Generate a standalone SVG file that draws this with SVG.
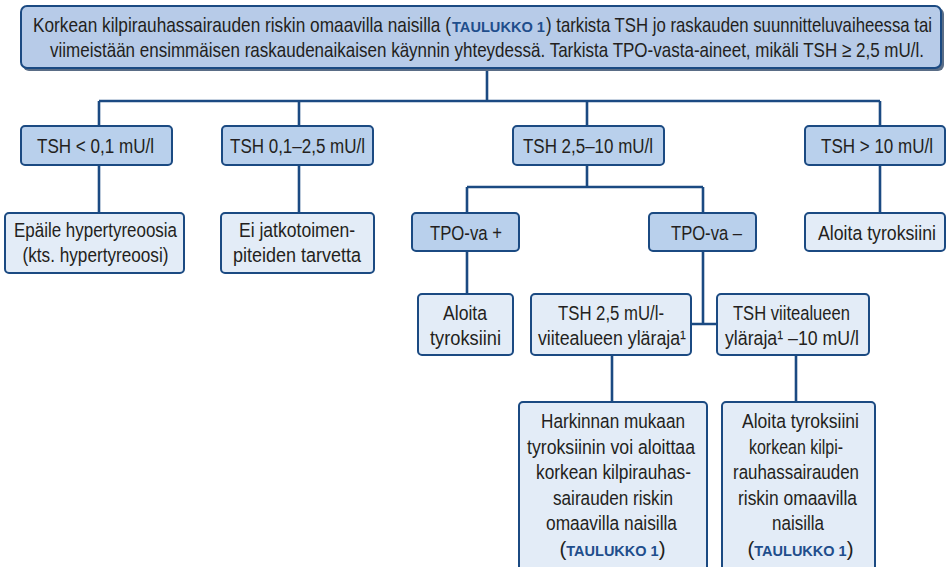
<svg xmlns="http://www.w3.org/2000/svg" width="947" height="567" viewBox="0 0 947 567">
<style>
.t{font-family:"Liberation Sans",Arial,sans-serif;font-size:20.5px;fill:#231f20;text-anchor:middle}
.h{font-size:21px}
.s{text-anchor:start}
.e{text-anchor:end}
.ref{font-family:"Liberation Sans",Arial,sans-serif;font-weight:bold;font-size:14.5px;fill:#1f4e8c}
.d{fill:#b9d0ec;stroke:#1b4a82;stroke-width:2}
.l{fill:#e3ecf7;stroke:#1b4a82;stroke-width:2}
.c{stroke:#1b4a82;stroke-width:2.6;fill:none}
</style>
<rect width="947" height="567" fill="#ffffff"/>
<g id="connectors">
<path class="c" d="M487 69V101M99 101H880M99 101V126M299 101V126M587 101V126M880 101V126"/>
<path class="c" d="M99 165V213M299 165V213M880 165V213"/>
<path class="c" d="M587 165V187M467 187H703M467 187V213M703 187V213"/>
<path class="c" d="M467 251V294M703 251V324M691 324H717"/>
<path class="c" d="M612 355V402M796 355V402"/>
</g>
<g id="header">
<rect x="23" y="8" width="921" height="63" rx="6" fill="#5a6d86"/>
<rect class="d" x="21" y="6" width="920" height="62" rx="6" style="fill:#b7cbe8"/>
<text class="t h e" x="451" y="32" textLength="418" lengthAdjust="spacingAndGlyphs">Korkean kilpirauhassairauden riskin omaavilla naisilla (</text>
<text class="ref" x="452" y="32" textLength="93" lengthAdjust="spacingAndGlyphs" style="font-size:14px">TAULUKKO 1</text>
<text class="t h s" x="546" y="32" textLength="386" lengthAdjust="spacingAndGlyphs">) tarkista TSH jo raskauden suunnitteluvaiheessa tai</text>
<text class="t h" x="487" y="57" textLength="874" lengthAdjust="spacingAndGlyphs">viimeistään ensimmäisen raskaudenaikaisen käynnin yhteydessä. Tarkista TPO-vasta-aineet, mikäli TSH ≥ 2,5 mU/l.</text>
</g>
<g id="n1"><rect class="d" x="21" y="126" width="151" height="39" rx="4"/><text class="t" x="95.5" y="153" textLength="117" lengthAdjust="spacingAndGlyphs">TSH &lt; 0,1 mU/l</text></g>
<g id="n2"><rect class="d" x="222" y="126" width="151" height="39" rx="4"/><text class="t" x="297.5" y="153" textLength="135" lengthAdjust="spacingAndGlyphs">TSH 0,1–2,5 mU/l</text></g>
<g id="n3"><rect class="d" x="513" y="126" width="151" height="39" rx="4"/><text class="t" x="588" y="153" textLength="130" lengthAdjust="spacingAndGlyphs">TSH 2,5–10 mU/l</text></g>
<g id="n4"><rect class="d" x="805" y="126" width="140" height="39" rx="4"/><text class="t" x="877" y="153" textLength="112" lengthAdjust="spacingAndGlyphs">TSH &gt; 10 mU/l</text></g>
<g id="n5"><rect class="l" x="5" y="213" width="179" height="60" rx="4"/><text class="t" x="95.5" y="237" textLength="163" lengthAdjust="spacingAndGlyphs">Epäile hypertyreoosia</text><text class="t" x="95.5" y="262" textLength="146" lengthAdjust="spacingAndGlyphs">(kts. hypertyreoosi)</text></g>
<g id="n6"><rect class="l" x="221" y="213" width="153" height="60" rx="4"/><text class="t" x="297" y="237" textLength="116" lengthAdjust="spacingAndGlyphs">Ei jatkotoimen-</text><text class="t" x="297" y="262" textLength="128" lengthAdjust="spacingAndGlyphs">piteiden tarvetta</text></g>
<g id="n7"><rect class="d" x="412" y="213" width="107" height="38" rx="4"/><text class="t" x="466" y="240" textLength="72" lengthAdjust="spacingAndGlyphs">TPO-va +</text></g>
<g id="n8"><rect class="d" x="649" y="213" width="107" height="38" rx="4"/><text class="t" x="706.5" y="240" textLength="71" lengthAdjust="spacingAndGlyphs">TPO-va –</text></g>
<g id="n9"><rect class="l" x="805" y="213" width="140" height="38" rx="4"/><text class="t" x="877" y="240" textLength="118" lengthAdjust="spacingAndGlyphs">Aloita tyroksiini</text></g>
<g id="n10"><rect class="l" x="418" y="294" width="95" height="61" rx="4"/><text class="t" x="465" y="320" textLength="44" lengthAdjust="spacingAndGlyphs">Aloita</text><text class="t" x="465.5" y="345" textLength="71" lengthAdjust="spacingAndGlyphs">tyroksiini</text></g>
<g id="n11"><rect class="l" x="531" y="294" width="160" height="61" rx="4"/><text class="t" x="611" y="320" textLength="106" lengthAdjust="spacingAndGlyphs">TSH 2,5 mU/l-</text><text class="t" x="612" y="345" textLength="148" lengthAdjust="spacingAndGlyphs">viitealueen yläraja¹</text></g>
<g id="n12"><rect class="l" x="717" y="294" width="152" height="61" rx="4"/><text class="t" x="791.5" y="320" textLength="117" lengthAdjust="spacingAndGlyphs">TSH viitealueen</text><text class="t" x="792" y="345" textLength="134" lengthAdjust="spacingAndGlyphs">yläraja¹ –10 mU/l</text></g>
<g id="n13"><rect class="l" x="519" y="402" width="188" height="175" rx="4"/>
<text class="t" x="613" y="428" textLength="144" lengthAdjust="spacingAndGlyphs">Harkinnan mukaan</text>
<text class="t" x="611" y="454" textLength="168" lengthAdjust="spacingAndGlyphs">tyroksiinin voi aloittaa</text>
<text class="t" x="613.5" y="479" textLength="155" lengthAdjust="spacingAndGlyphs">korkean kilpirauhas-</text>
<text class="t" x="613" y="505" textLength="120" lengthAdjust="spacingAndGlyphs">sairauden riskin</text>
<text class="t" x="611.5" y="530" textLength="131" lengthAdjust="spacingAndGlyphs">omaavilla naisilla</text>
<text class="t" x="612.5" y="556">(<tspan class="ref">TAULUKKO 1</tspan>)</text></g>
<g id="n14"><rect class="l" x="722" y="402" width="153" height="175" rx="4"/>
<text class="t" x="800.5" y="428" textLength="117" lengthAdjust="spacingAndGlyphs">Aloita tyroksiini</text>
<text class="t" x="796" y="454" textLength="94" lengthAdjust="spacingAndGlyphs">korkean kilpi-</text>
<text class="t" x="796" y="479" textLength="126" lengthAdjust="spacingAndGlyphs">rauhassairauden</text>
<text class="t" x="797.5" y="505" textLength="119" lengthAdjust="spacingAndGlyphs">riskin omaavilla</text>
<text class="t" x="798" y="530" textLength="52" lengthAdjust="spacingAndGlyphs">naisilla</text>
<text class="t" x="800.5" y="556">(<tspan class="ref">TAULUKKO 1</tspan>)</text></g>
</svg>
